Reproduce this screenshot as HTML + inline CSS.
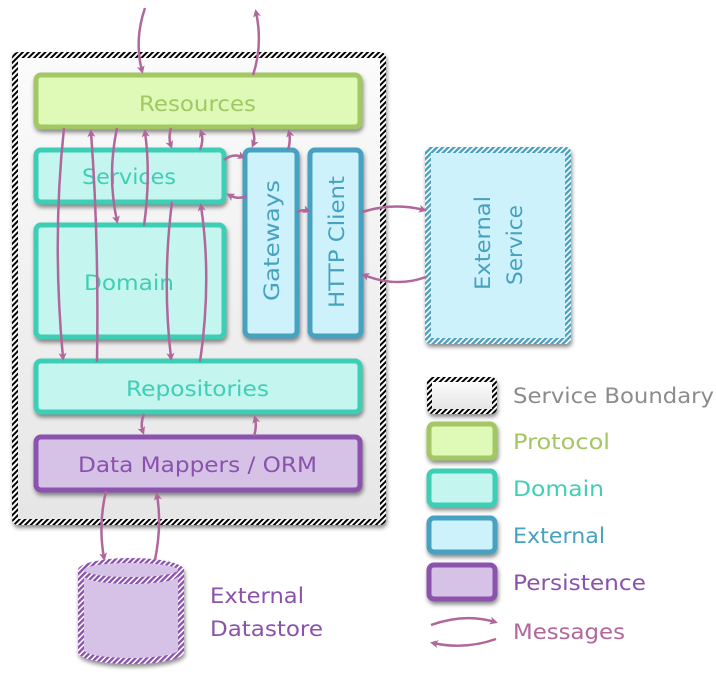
<!DOCTYPE html>
<html><head><meta charset="utf-8"><style>
html,body{margin:0;padding:0;background:#fff;}
svg{display:block;font-family:"DejaVu Sans","Liberation Sans",sans-serif;}
</style></head><body>
<svg width="716" height="676" viewBox="0 0 716 676" xmlns="http://www.w3.org/2000/svg">
<defs>
<pattern id="hk" width="4" height="4" patternUnits="userSpaceOnUse" patternTransform="rotate(45)">
<rect width="4" height="4" fill="#fff"/><rect width="2" height="4" fill="#000"/></pattern>
<pattern id="hb" width="4" height="4" patternUnits="userSpaceOnUse" patternTransform="rotate(45)">
<rect width="4" height="4" fill="#fff"/><rect width="2.4" height="4" fill="#47a1c0"/></pattern>
<pattern id="hp" width="4" height="4" patternUnits="userSpaceOnUse" patternTransform="rotate(45)">
<rect width="4" height="4" fill="#fff"/><rect width="2.4" height="4" fill="#8b52ad"/></pattern>
<linearGradient id="g" x1="0" y1="0" x2="0" y2="1"><stop offset="0" stop-color="#fbfbfb"/><stop offset="1" stop-color="#e6e6e6"/></linearGradient>
<filter id="sh" x="-10%" y="-10%" width="130%" height="130%"><feDropShadow dx="1" dy="3" stdDeviation="2" flood-opacity="0.45"/></filter>
<marker id="a" markerWidth="8" markerHeight="8" refX="5" refY="4" orient="auto" markerUnits="userSpaceOnUse"><path d="M0,0 L8,4 L0,8 L2,4 z" fill="#b0679b"/></marker>
</defs>

<rect x="12" y="52" width="374" height="473" rx="6" fill="url(#hk)" filter="url(#sh)"/>
<rect x="18" y="58" width="362" height="461" fill="url(#g)"/>

<g filter="url(#sh)">
<rect x="36" y="75" width="324" height="52" rx="5" fill="#dff9b7" stroke="#a3c762" stroke-width="5"/>
<rect x="36" y="150" width="188" height="52" rx="5" fill="#c4f5ee" stroke="#3ecfb6" stroke-width="5"/>
<rect x="36" y="225" width="188" height="112" rx="5" fill="#c4f5ee" stroke="#3ecfb6" stroke-width="5"/>
<rect x="245" y="150" width="52" height="186" rx="5" fill="#cdf2fb" stroke="#47a1c0" stroke-width="5"/>
<rect x="310" y="150" width="51" height="186" rx="5" fill="#cdf2fb" stroke="#47a1c0" stroke-width="5"/>
<rect x="36" y="361" width="324" height="51" rx="5" fill="#c4f5ee" stroke="#3ecfb6" stroke-width="5"/>
<rect x="36" y="437" width="324" height="53" rx="5" fill="#d5c2e6" stroke="#8b52ad" stroke-width="5"/>
<rect x="425" y="147" width="146" height="197" rx="5" fill="url(#hb)"/>
</g>
<rect x="431" y="153" width="134" height="185" fill="#cdf2fb"/>

<g filter="url(#sh)">
<path d="M78,570 A53,12 0 0 1 184,570 L184,652 A53,12 0 0 1 78,652 Z" fill="url(#hp)"/>
</g>
<path d="M84,576 A47,8 0 0 0 178,576 L178,650 A47,8 0 0 1 84,650 Z" fill="#d5c2e6"/>
<ellipse cx="131" cy="570" rx="47" ry="7" fill="#d5c2e6"/>

<g font-size="21" lengthAdjust="spacingAndGlyphs">
<text x="139" y="111" textLength="117" lengthAdjust="spacingAndGlyphs" fill="#a3c762">Resources</text>
<text x="82" y="184" textLength="94" lengthAdjust="spacingAndGlyphs" fill="#3ecfb6">Services</text>
<text x="84" y="290" textLength="90" lengthAdjust="spacingAndGlyphs" fill="#3ecfb6">Domain</text>
<text x="126" y="396" textLength="143" lengthAdjust="spacingAndGlyphs" fill="#3ecfb6">Repositories</text>
<text x="78" y="472" textLength="239" lengthAdjust="spacingAndGlyphs" fill="#8b52ad">Data Mappers / ORM</text>
<text transform="translate(279,301) rotate(-90)" textLength="121" lengthAdjust="spacingAndGlyphs" fill="#47a1c0">Gateways</text>
<text transform="translate(344,308) rotate(-90)" textLength="132" lengthAdjust="spacingAndGlyphs" fill="#47a1c0">HTTP Client</text>
<text transform="translate(490,290) rotate(-90)" textLength="94" lengthAdjust="spacingAndGlyphs" fill="#47a1c0">External</text>
<text transform="translate(522,285) rotate(-90)" textLength="80" lengthAdjust="spacingAndGlyphs" fill="#47a1c0">Service</text>
<text x="210" y="603" textLength="94" lengthAdjust="spacingAndGlyphs" fill="#8b52ad">External</text>
<text x="210" y="636" textLength="113" lengthAdjust="spacingAndGlyphs" fill="#8b52ad">Datastore</text>
<text x="513" y="403" textLength="201" lengthAdjust="spacingAndGlyphs" fill="#8c8c8c">Service Boundary</text>
<text x="513" y="449" textLength="97" lengthAdjust="spacingAndGlyphs" fill="#a3c762">Protocol</text>
<text x="513" y="496" textLength="91" lengthAdjust="spacingAndGlyphs" fill="#3ecfb6">Domain</text>
<text x="513" y="543" textLength="92" lengthAdjust="spacingAndGlyphs" fill="#47a1c0">External</text>
<text x="513" y="590" textLength="133" lengthAdjust="spacingAndGlyphs" fill="#8b52ad">Persistence</text>
<text x="513" y="639" textLength="112" lengthAdjust="spacingAndGlyphs" fill="#b0679b">Messages</text>
</g>

<g fill="none" stroke="#b0679b" stroke-width="2.5" marker-end="url(#a)">
<path d="M145,8 Q134,40 142,71"/>
<path d="M253,75 Q263,45 256,12"/>
<path d="M64,128 Q52,240 63,358"/>
<path d="M97,362 Q99,240 91,132"/>
<path d="M117,128 Q107,175 117,221"/>
<path d="M144,226 Q151,175 145,132"/>
<path d="M171,128 Q168,138 171,146"/>
<path d="M200,150 Q204,140 201,132"/>
<path d="M252,128 Q256,138 253,145"/>
<path d="M288,150 Q291,140 289,132"/>
<path d="M224,160 Q233,153 243,157"/>
<path d="M247,196 Q238,200 229,195"/>
<path d="M297,212 Q303,209 308,211"/>
<path d="M362,212 Q394,202 424,210"/>
<path d="M426,277 Q396,288 364,275"/>
<path d="M172,202 Q162,280 171,358"/>
<path d="M200,362 Q212,280 201,206"/>
<path d="M144,414 Q140,424 143,432"/>
<path d="M254,436 Q257,426 255,418"/>
<path d="M106,491 Q98,525 104,558"/>
<path d="M155,560 Q162,525 157,495"/>
<path d="M431,625 Q465,613 495,622"/>
<path d="M496,639 Q465,650 433,643"/>
</g>

<g filter="url(#sh)">
<rect x="427" y="377" width="70" height="37" rx="6" fill="url(#hk)"/>
<rect x="429" y="424" width="66" height="34" rx="5" fill="#dff9b7" stroke="#a3c762" stroke-width="5"/>
<rect x="429" y="471" width="66" height="34" rx="5" fill="#c4f5ee" stroke="#3ecfb6" stroke-width="5"/>
<rect x="429" y="518" width="66" height="34" rx="5" fill="#cdf2fb" stroke="#47a1c0" stroke-width="5"/>
<rect x="429" y="565" width="66" height="34" rx="5" fill="#d5c2e6" stroke="#8b52ad" stroke-width="5"/>
</g>
<rect x="432" y="382" width="60" height="27" fill="url(#g)"/>
</svg>
</body></html>
